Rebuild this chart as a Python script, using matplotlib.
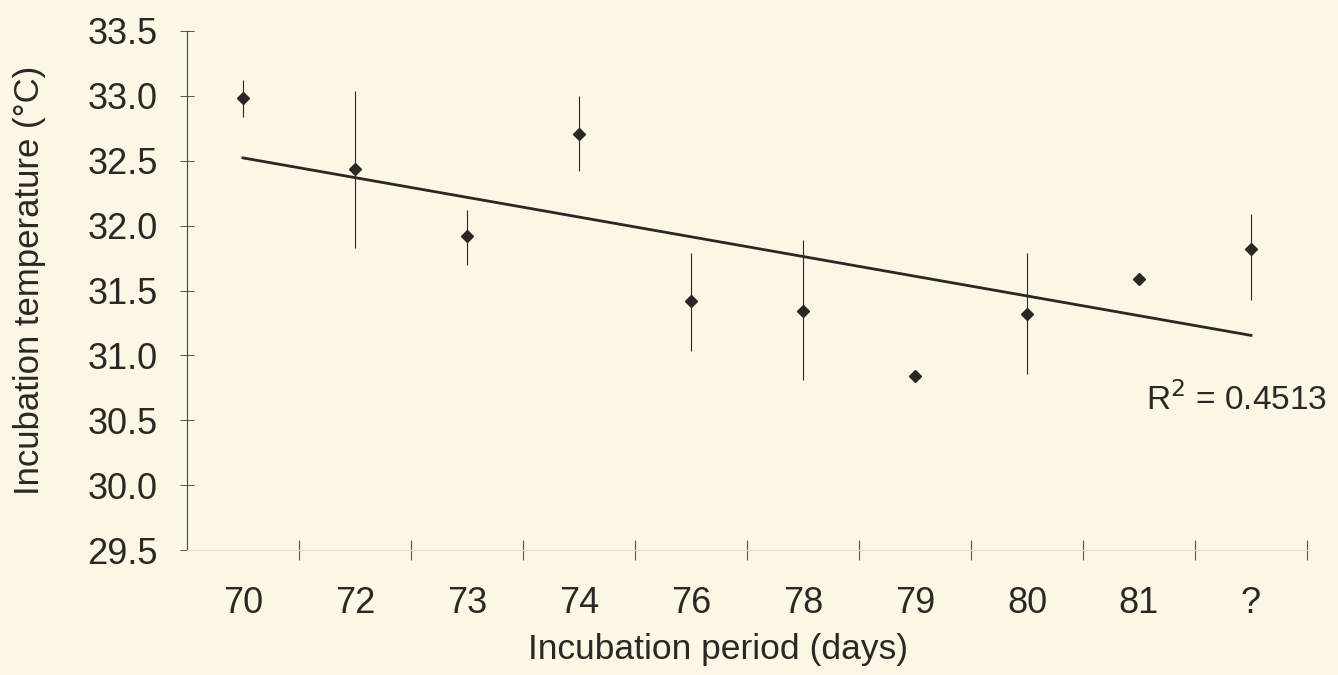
import numpy as np
import matplotlib.pyplot as plt

# incubation period classes and mean nest temperature
periods = ["70", "72", "73", "74", "76", "78", "79", "80", "81", "?"]
temp_mean = [32.98, 32.44, 31.92, 32.71, 31.42, 31.34, 30.84, 31.32, 31.59, 31.82]
# ends of the vertical range bars (nan = no bar drawn)
temp_low = [32.84, 31.83, 31.70, 32.42, 31.03, 30.81, np.nan, 30.86, np.nan, 31.43]
temp_high = [33.12, 33.04, 32.12, 33.00, 31.79, 31.89, np.nan, 31.79, np.nan, 32.09]
r2_label = "R$^2$ = 0.4513"

bg = "#fcf7e4"
ink = "#2a2725"

plt.rcParams['font.family'] = ['Liberation Sans', 'DejaVu Sans']

fig = plt.figure(figsize=(13.38, 6.75), dpi=100, facecolor=bg)
ax = fig.add_axes([187/1338, 1-550/675, 1120/1338, 519/675])
ax.set_facecolor(bg)

x = np.arange(len(periods))
mean = np.array(temp_mean)
lo = np.array(temp_low)
hi = np.array(temp_high)

# range bars
ax.vlines(x, lo, hi, color=ink, lw=0.8, zorder=2)
ax.plot(x, mean, 'D', color=ink, ms=6.5, zorder=3)

# linear trend through the means
k, b = np.polyfit(x, mean, 1)
ax.plot([x[0], x[-1]], [k*x[0] + b, k*x[-1] + b], color=ink, lw=2, zorder=2)

ax.text(8.06, 30.66, r2_label, fontsize=24, color=ink, va='center', ha='left',
        clip_on=False)

ax.set_xlim(-0.5, 9.5)
ax.set_ylim(29.5, 33.5)
ax.set_yticks(np.arange(29.5, 33.51, 0.5))
ax.set_yticklabels(["%.1f" % v for v in np.arange(29.5, 33.51, 0.5)])
ax.set_xticks(np.arange(0.5, 9.6, 1.0))
ax.set_xticklabels([])
ax.set_xticks(x, minor=True)
ax.set_xticklabels(periods, minor=True)

ax.tick_params(axis='y', direction='inout', length=10, width=0.7, color='#555555',
               labelsize=26, labelcolor=ink, pad=16)
ax.tick_params(axis='x', which='major', direction='inout', length=15, width=0.8,
               color='#555555')
ax.tick_params(axis='x', which='minor', length=0, labelsize=26, labelcolor=ink, pad=26)

for s in ['top', 'right']:
    ax.spines[s].set_visible(False)
ax.spines['left'].set_color('#444444')
ax.spines['left'].set_linewidth(0.8)
ax.spines['bottom'].set_color('#e6e0cc')
ax.spines['bottom'].set_linewidth(0.8)

fig.text(30/1338, 1-280/675, "Incubation temperature (°C)", rotation=90,
         fontsize=25, color=ink, ha='center', va='center')
fig.text(718/1338, 1-649/675, "Incubation period (days)", fontsize=25.5, color=ink,
         ha='center', va='center')

fig.savefig("out.png", dpi=100, facecolor=bg)
